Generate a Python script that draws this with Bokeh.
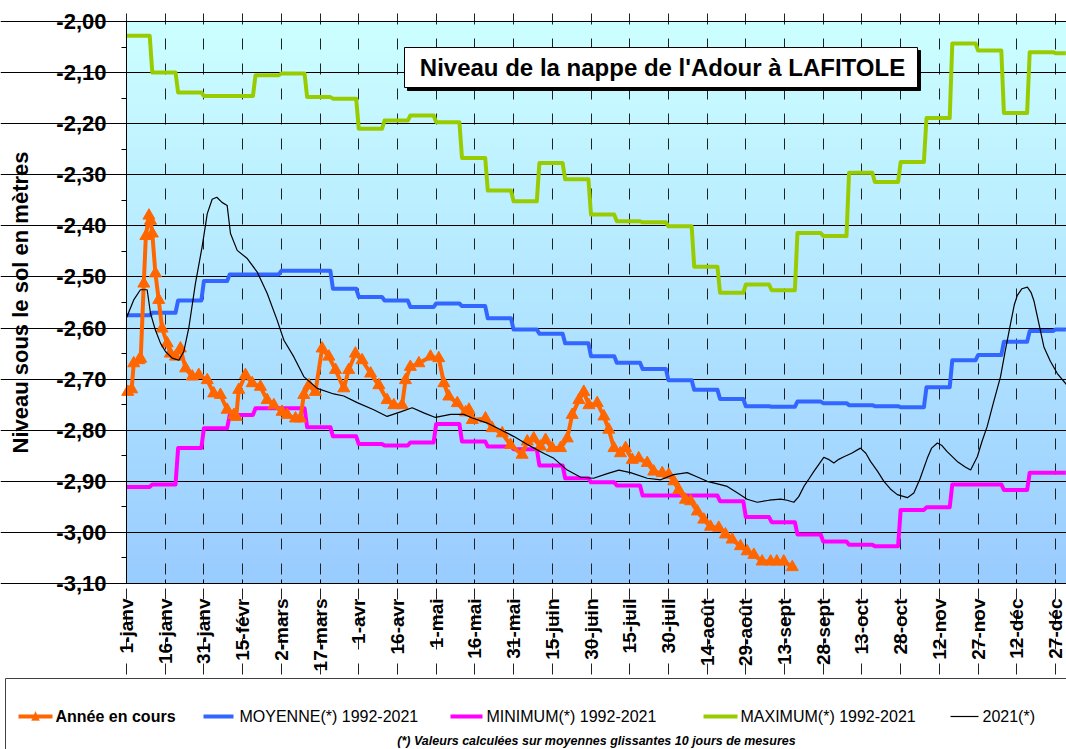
import numpy as np
from bokeh.plotting import figure
from bokeh.models import (Range1d, FixedTicker, CustomJSTickFormatter, BoxAnnotation, Label,
                          PolyAnnotation)
from bokeh.embed import file_html
from bokeh.resources import INLINE

# ---------------- data ----------------
TICK_DAYS = list(range(0, 361, 15))
TICK_LABELS = ["1-janv", "16-janv", "31-janv", "15-févr", "2-mars", "17-mars", "1-avr",
               "16-avr", "1-mai", "16-mai", "31-mai", "15-juin", "30-juin", "15-juil",
               "30-juil", "14-août", "29-août", "13-sept", "28-sept", "13-oct", "28-oct",
               "12-nov", "27-nov", "12-déc", "27-déc"]

BLOCK_DAYS = 10  # values given per 10-day window

MAXIMUM = [-2.028, -2.100, -2.139, -2.146, -2.146, -2.105, -2.102, -2.148, -2.151, -2.210,
           -2.194, -2.184, -2.197, -2.267, -2.331, -2.352, -2.277, -2.309, -2.378, -2.391,
           -2.393, -2.401, -2.480, -2.531, -2.515, -2.526, -2.414, -2.420, -2.296, -2.314,
           -2.275, -2.189, -2.043, -2.057, -2.179, -2.060, -2.062]

MOYENNE = [-2.575, -2.570, -2.546, -2.508, -2.495, -2.495, -2.488, -2.488, -2.523, -2.539,
           -2.546, -2.559, -2.552, -2.557, -2.581, -2.603, -2.611, -2.630, -2.655, -2.668,
           -2.680, -2.702, -2.721, -2.739, -2.753, -2.754, -2.744, -2.747, -2.751, -2.753,
           -2.755, -2.716, -2.663, -2.653, -2.627, -2.606, -2.603]

MINIMUM = [-2.911, -2.906, -2.835, -2.796, -2.770, -2.757, -2.757, -2.794, -2.812, -2.827,
           -2.830, -2.824, -2.788, -2.822, -2.832, -2.837, -2.869, -2.894, -2.902, -2.908,
           -2.928, -2.928, -2.928, -2.939, -2.970, -2.980, -3.004, -3.018, -3.024, -3.027,
           -2.956, -2.951, -2.906, -2.906, -2.917, -2.883, -2.883]

Y2021_DAY = [0, 2.8, 5.4, 8, 9.3, 11.2, 13.2, 15.1, 17.7, 20.3, 22.2, 24.2, 26.7, 29.3, 31.3,
             33.2, 35, 37, 39, 40.3, 42.9, 46.8, 50.6, 54.5, 58.4, 61, 64.8, 68.7, 73.9, 80.3,
             84.2, 89.4, 95.8, 101, 106.2, 110.7, 115.2, 119.7, 125.6, 130.7, 134, 139.8, 145,
             150, 155, 159, 162, 165.6, 170.8, 176, 181, 186.3, 190.8, 195.3, 201.8, 207, 212,
             217.3, 221, 225, 229, 232.8, 236.5, 240.5, 244.4, 249, 253.5, 256, 258.6, 260.5,
             262.5, 264.5, 266.3, 270.2, 272, 274.1, 276, 278, 281, 284.4, 286.5, 288.3, 291,
             293.5, 296, 298.7, 302.6, 305.1, 307.5, 310.3, 312, 314.2, 316, 318, 321.9, 325,
             327.1, 329.7, 331.5, 333.5, 336, 338.7, 340.5, 342.6, 344, 345.2, 347, 349.1,
             350.5, 351.6, 353.5, 355.5, 358, 360.7, 364.3]
Y2021_VAL = [-2.580, -2.545, -2.525, -2.525, -2.571, -2.604, -2.630, -2.646, -2.659, -2.663,
             -2.646, -2.598, -2.513, -2.441, -2.376, -2.348, -2.344, -2.354, -2.360, -2.415,
             -2.448, -2.464, -2.490, -2.532, -2.585, -2.624, -2.656, -2.695, -2.718, -2.729,
             -2.733, -2.746, -2.760, -2.773, -2.764, -2.756, -2.766, -2.775, -2.769, -2.769,
             -2.776, -2.786, -2.799, -2.812, -2.827, -2.838, -2.846, -2.855, -2.878, -2.892,
             -2.894, -2.885, -2.878, -2.883, -2.894, -2.897, -2.887, -2.883, -2.891, -2.900,
             -2.905, -2.910, -2.922, -2.935, -2.941, -2.937, -2.935, -2.937, -2.941, -2.930,
             -2.910, -2.895, -2.881, -2.853, -2.857, -2.864, -2.857, -2.852, -2.845, -2.835,
             -2.845, -2.861, -2.880, -2.900, -2.915, -2.926, -2.932, -2.923, -2.895, -2.855,
             -2.835, -2.825, -2.830, -2.842, -2.861, -2.872, -2.878, -2.852, -2.822, -2.793,
             -2.745, -2.695, -2.645, -2.591, -2.555, -2.536, -2.523, -2.520, -2.530, -2.546,
             -2.590, -2.637, -2.665, -2.689, -2.711]

COURS_DAY = [0.5, 2, 2.8, 4.8, 5.5, 6.7, 7.5, 8.7, 9.3, 10, 11.2, 12.5, 13.8, 15.8, 17, 19,
             20.9, 22.9, 25.5, 28, 31.3, 33.8, 36.4, 39, 41.6, 42.5, 43.5, 46.1, 48.7, 51.9,
             54.5, 57.1, 60.3, 62.3, 65.5, 67.4, 68.7, 70.7, 73.2, 75.8, 78.4, 81, 84.2, 86.1,
             88.7, 91.3, 94.6, 97.8, 101, 103.6, 106.8, 108.1, 110, 113.3, 117.8, 121, 123,
             124.9, 128.2, 131.4, 132.7, 134, 139.1, 141.7, 145.6, 148.8, 153.3, 155.3, 157.8,
             160.4, 162.4, 165, 168.2, 170.8, 172.7, 175.3, 177.2, 179.2, 182.4, 185, 186.9,
             188.9, 191.4, 193.4, 196, 198.5, 201.8, 204.3, 207.6, 210.1, 212.1, 214, 216.6,
             218.6, 221.2, 223.7, 226.3, 229.5, 232.1, 234.7, 237.9, 240.5, 243.1, 246.3,
             249.6, 252, 254.7, 258]
COURS_VAL = [-2.725, -2.720, -2.669, -2.663, -2.660, -2.513, -2.420, -2.380, -2.390, -2.415,
             -2.493, -2.545, -2.601, -2.630, -2.650, -2.656, -2.640, -2.679, -2.695, -2.692,
             -2.702, -2.728, -2.731, -2.760, -2.770, -2.774, -2.721, -2.692, -2.708, -2.715,
             -2.741, -2.751, -2.764, -2.770, -2.777, -2.777, -2.731, -2.712, -2.725, -2.640,
             -2.656, -2.682, -2.718, -2.682, -2.650, -2.663, -2.689, -2.712, -2.741, -2.751,
             -2.751, -2.702, -2.676, -2.669, -2.656, -2.659, -2.708, -2.734, -2.747, -2.765,
             -2.760, -2.780, -2.777, -2.796, -2.806, -2.829, -2.848, -2.822, -2.816, -2.832,
             -2.819, -2.835, -2.835, -2.816, -2.770, -2.741, -2.725, -2.751, -2.747, -2.773,
             -2.799, -2.835, -2.845, -2.835, -2.858, -2.855, -2.864, -2.881, -2.884, -2.887,
             -2.900, -2.917, -2.936, -2.939, -2.959, -2.975, -2.989, -2.991, -3.004, -3.014,
             -3.027, -3.037, -3.044, -3.057, -3.057, -3.057, -3.057, -3.068]

LEGEND_LABELS = ["Année en cours", "MOYENNE(*) 1992-2021", "MINIMUM(*) 1992-2021",
                 "MAXIMUM(*) 1992-2021", "2021(*)"]
TITLE = "Niveau de la nappe de l'Adour à LAFITOLE"
Y_LABEL = "Niveau sous le sol en mètres"
FOOTNOTE = "(*) Valeurs calculées sur moyennes glissantes 10 jours de mesures"

# ---------------- styling / layout ----------------
FONT = "Liberation Sans"
C_COURS = "#FF6600"
C_MOY = "#3366FF"
C_MIN = "#FF00FF"
C_MAX = "#99CC00"
C_2021 = "black"

W, H = 1066, 749
FL, FT, FH = 126, 21, 562          # plot area left / top / height in px
S_X = 2.5806                        # px per day
X_END = (W - FL) / S_X
Y_START, Y_END = -3.10, -2.00
S_Y = FH / (Y_END - Y_START)        # px per metre
FB = FT + FH


def px2x(px):
    return (px - FL) / S_X


def py2y(py):
    return Y_START - (py - FB) / S_Y


def steps(vals):
    xs, ys = [], []
    for i, v in enumerate(vals):
        s = i * BLOCK_DAYS
        e = min(s + BLOCK_DAYS - 1, 364)
        xs += [s, e]
        ys += [v, v]
    return xs, ys


# the frame spans the whole canvas so that the legend panel below can be drawn too
p = figure(width=W, height=H, x_range=Range1d(px2x(0), px2x(W)),
           y_range=Range1d(py2y(H), py2y(0)),
           output_backend="svg", toolbar_location=None,
           min_border_left=0, min_border_right=0, min_border_top=0, min_border_bottom=0)
p.outline_line_color = None
p.border_fill_color = "white"
p.background_fill_color = "white"

# vertical gradient background of the plot area
n = 256
img = np.empty((n, 1), dtype=np.uint32)
view = img.view(dtype=np.uint8).reshape((n, 1, 4))
t = np.linspace(0.0, 1.0, n)
bot = np.array([153, 204, 255])
top = np.array([204, 255, 255])
for k in range(3):
    view[:, 0, k] = np.round(bot[k] + (top[k] - bot[k]) * t).astype(np.uint8)
view[:, 0, 3] = 255
p.image_rgba(image=[img], x=0, y=Y_START, dw=X_END, dh=Y_END - Y_START, level="image")

# axes placed at the plot-area edges
y_ticks = [round(Y_START + 0.1 * i, 2) for i in range(12)]
y_minor = [round(Y_START + 0.05 * i, 3) for i in range(23)]
p.yaxis.fixed_location = 0
p.yaxis.bounds = (Y_START, Y_END)
p.yaxis.ticker = FixedTicker(ticks=y_ticks, minor_ticks=y_minor)
p.yaxis.formatter = CustomJSTickFormatter(code="return tick.toFixed(2).replace('.', ',');")
p.yaxis.major_label_text_font = FONT
p.yaxis.major_label_text_font_size = "22px"
p.yaxis.major_label_text_font_style = "bold"
p.yaxis.major_label_text_color = "black"
p.yaxis.major_tick_out = 8
p.yaxis.major_tick_in = 0
p.yaxis.minor_tick_out = 5
p.yaxis.minor_tick_in = 0
p.yaxis.major_label_standoff = 12
p.yaxis.axis_label = Y_LABEL
p.yaxis.axis_label_text_font = FONT
p.yaxis.axis_label_text_font_size = "22px"
p.yaxis.axis_label_text_font_style = "bold"
p.yaxis.axis_label_text_color = "black"
p.yaxis.axis_label_standoff = 20
p.yaxis.axis_line_color = "black"

p.xaxis.fixed_location = Y_START
p.xaxis.bounds = (0, X_END)
p.xaxis.ticker = FixedTicker(ticks=TICK_DAYS)
p.xaxis.major_label_overrides = {d: lab for d, lab in zip(TICK_DAYS, TICK_LABELS)}
p.xaxis.major_label_orientation = np.pi / 2
p.xaxis.major_label_text_font = FONT
p.xaxis.major_label_text_font_size = "19px"
p.xaxis.major_label_text_font_style = "bold"
p.xaxis.major_label_text_color = "black"
p.xaxis.major_tick_in = 4
p.xaxis.major_tick_out = 0
p.xaxis.minor_tick_line_color = None
p.xaxis.major_label_standoff = 15
p.xaxis.axis_line_color = "black"

p.ygrid.bounds = (0, X_END)
p.ygrid.grid_line_color = "black"
p.ygrid.grid_line_width = 1
p.xgrid.bounds = (Y_START, Y_END)
p.xgrid.grid_line_color = "#222222"
p.xgrid.grid_line_dash = "11 14"
p.xgrid.grid_line_width = 1

# series
for vals, col in [(MOYENNE, C_MOY), (MINIMUM, C_MIN), (MAXIMUM, C_MAX)]:
    xs, ys = steps(vals)
    p.line(xs, ys, line_color=col, line_width=4, line_join="round")

p.line(COURS_DAY, COURS_VAL, line_color=C_COURS, line_width=4, line_join="round")
p.scatter(COURS_DAY, COURS_VAL, marker="triangle", size=12, fill_color=C_COURS,
          line_color=C_COURS)
p.line(Y2021_DAY, Y2021_VAL, line_color=C_2021, line_width=1.2)

# title box with shadow
p.add_layout(BoxAnnotation(left=px2x(407), right=px2x(920), top=py2y(50), bottom=py2y(90),
                           fill_color="black", fill_alpha=1, line_color="black", line_alpha=1))
p.add_layout(BoxAnnotation(left=px2x(404), right=px2x(917), top=py2y(47), bottom=py2y(87),
                           fill_color="white", fill_alpha=1, line_color="black", line_alpha=1,
                           line_width=1))
p.add_layout(Label(x=px2x(662), y=py2y(67), text=TITLE, text_align="center",
                   text_baseline="middle", text_font=FONT, text_font_size="24px",
                   text_font_style="bold", text_color="black"))

# ---------------- legend (below the axis) ----------------
p.add_layout(BoxAnnotation(left=px2x(5), right=px2x(1100), top=py2y(678), bottom=py2y(800),
                           fill_color="white", fill_alpha=1, line_color="#404040",
                           line_alpha=1, line_width=1))
LEG_Y = 716
leg_lines = [(18, 52), (203, 233), (450, 482), (703, 737), (950, 978)]
leg_text_x = [55, 239, 486, 740, 982]
leg_colors = [C_COURS, C_MOY, C_MIN, C_MAX, C_2021]
leg_half = [2, 2, 2, 2, 0.6]
for (x0, x1), tx, col, hw, lab in zip(leg_lines, leg_text_x, leg_colors, leg_half, LEGEND_LABELS):
    p.add_layout(BoxAnnotation(left=px2x(x0), right=px2x(x1), top=py2y(LEG_Y - hw),
                               bottom=py2y(LEG_Y + hw), fill_color=col, fill_alpha=1,
                               line_color=None))
    p.add_layout(Label(x=px2x(tx), y=py2y(LEG_Y), text=lab, text_font=FONT,
                       text_font_size="16px",
                       text_font_style="bold" if lab == LEGEND_LABELS[0] else "normal",
                       text_baseline="middle", text_align="left", text_color="black"))
p.add_layout(PolyAnnotation(xs=[px2x(31), px2x(39), px2x(35)],
                            ys=[py2y(720), py2y(720), py2y(711)],
                            fill_color=C_COURS, fill_alpha=1, line_color=C_COURS))
p.add_layout(Label(x=px2x(596), y=py2y(740), text=FOOTNOTE, text_font=FONT,
                   text_font_size="12.5px", text_font_style="bold italic",
                   text_baseline="middle", text_align="center", text_color="black"))

open("out.html", "w").write(file_html(p, INLINE))
